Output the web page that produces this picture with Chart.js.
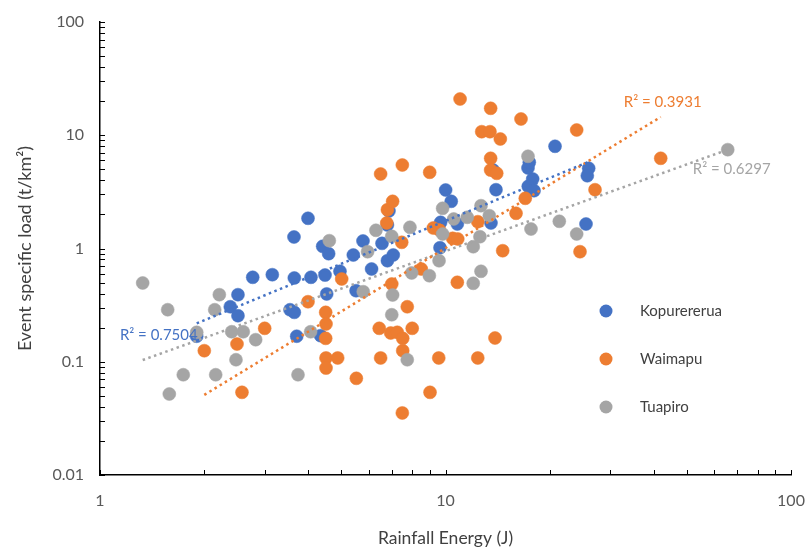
<!DOCTYPE html>
<html>
<head>
<meta charset="utf-8">
<script src="https://cdn.jsdelivr.net/npm/chart.js@4/dist/chart.umd.min.js"></script>
<style>
  html, body { margin: 0; padding: 0; background: #ffffff; }
  #wrap { width: 808px; height: 552px; }
</style>
</head>
<body>
<div id="wrap"><canvas id="c" width="808" height="552"></canvas></div>
<script>
// Event specific sediment load against rainfall energy, three catchments.
const seriesNames = ['Kopurererua', 'Waimapu', 'Tuapiro'];
const seriesColors = ['#4472C4', '#ED7D31', '#A5A5A5'];
const r2Labels = ['R\u00B2 = 0.7504', 'R\u00B2 = 0.3931', 'R\u00B2 = 0.6297'];

const xTickValues = [1, 10, 100];
const xTickLabels = ['1', '10', '100'];
const yTickValues = [0.01, 0.1, 1, 10, 100];
const yTickLabels = ['0.01', '0.1', '1', '10', '100'];

// Kopurererua
const kopEnergy = [1.905, 2.383, 2.508, 2.508, 2.767, 3.153, 3.651, 3.548, 3.651, 3.710,
  3.643, 4.00, 4.08, 4.48, 4.41, 4.59, 4.53, 4.35, 4.95, 5.41,
  5.51, 5.77, 6.11, 6.55, 6.79, 7.06, 6.86, 6.79, 9.64, 9.68,
  10.01, 10.39, 10.82, 13.73, 14.0, 13.54, 17.33, 17.48, 17.88, 17.36,
  18.04, 20.75, 25.97, 25.73, 25.51];
const kopLoad = [0.168, 0.306, 0.391, 0.255, 0.557, 0.587, 0.549, 0.288, 0.273, 0.168,
  1.264, 1.848, 0.557, 0.583, 1.046, 0.90, 0.397, 0.170, 0.629, 0.876,
  0.424, 1.165, 0.659, 1.11, 0.78, 0.876, 2.144, 1.613, 1.016, 1.703,
  3.285, 2.61, 1.645, 4.93, 3.305, 1.68, 5.14, 5.77, 4.11, 3.54,
  3.24, 7.99, 5.11, 4.39, 1.645];

// Waimapu
const waiEnergy = [2.004, 2.492, 2.576, 2.997, 4.0, 4.50, 4.51, 4.50, 4.51, 4.875,
  4.51, 5.007, 5.52, 6.43, 6.49, 6.49, 6.79, 7.03, 6.76, 6.94,
  7.25, 7.52, 7.52, 6.99, 7.47, 7.50, 7.50, 7.75, 8.01, 8.51,
  9.00, 9.02, 9.22, 9.60, 9.56, 10.49, 10.85, 10.82, 11.02, 12.40,
  12.40, 12.73, 13.45, 13.51, 13.51, 13.51, 14.07, 14.41, 14.64, 13.91,
  16.0, 16.54, 17.02, 23.97, 24.51, 27.09, 41.97];
const waiLoad = [0.1252, 0.1434, 0.0537, 0.1974, 0.339, 0.273, 0.2155, 0.161, 0.108, 0.108,
  0.088, 0.538, 0.0714, 0.1974, 0.108, 4.55, 2.20, 2.61, 1.68, 0.1794,
  0.182, 0.161, 0.1252, 0.486, 1.134, 5.46, 0.0353, 0.306, 0.1974, 0.659,
  4.71, 0.0537, 1.517, 1.457, 0.108, 1.23, 1.213, 0.503, 20.9, 1.724,
  0.108, 10.75, 10.75, 17.3, 6.26, 4.93, 4.61, 9.27, 0.956, 0.162,
  2.046, 13.92, 2.776, 11.13, 0.937, 3.305, 6.26];

// Tuapiro
const tuaEnergy = [1.329, 1.570, 1.587, 1.742, 1.905, 2.148, 2.162, 2.215, 2.405, 2.475,
  2.598, 2.822, 3.742, 4.07, 4.61, 5.78, 5.95, 6.29, 6.99, 6.99,
  7.03, 7.75, 7.89, 7.98, 8.98, 9.58, 9.81, 9.81, 10.56, 11.56,
  12.03, 12.03, 12.58, 12.67, 12.67, 13.39, 17.33, 17.68, 21.35, 23.97,
  65.6];
const tuaLoad = [0.496, 0.288, 0.0519, 0.0768, 0.182, 0.288, 0.0768, 0.391, 0.184, 0.1042,
  0.184, 0.1566, 0.0768, 0.184, 1.172, 0.4155, 0.937, 1.448, 1.281, 0.260,
  0.3886, 0.1042, 1.539, 0.608, 0.575, 0.78, 2.265, 1.343, 1.822, 1.886,
  1.037, 0.493, 1.271, 0.629, 2.388, 1.949, 6.52, 1.486, 1.739, 1.343,
  7.46];

const energies = [kopEnergy, waiEnergy, tuaEnergy];
const loads = [kopLoad, waiLoad, tuaLoad];

// Least-squares power fit y = a * x^b (straight line in log-log space)
function powerFit(xs, ys) {
  const lx = xs.map(Math.log10), ly = ys.map(Math.log10);
  const n = lx.length;
  const mx = lx.reduce((s, v) => s + v, 0) / n;
  const my = ly.reduce((s, v) => s + v, 0) / n;
  let sxy = 0, sxx = 0;
  for (let i = 0; i < n; i++) { sxy += (lx[i] - mx) * (ly[i] - my); sxx += (lx[i] - mx) ** 2; }
  const b = sxy / sxx;
  const a = Math.pow(10, my - b * mx);
  return { a, b };
}

function trendPoints(xs, ys) {
  const { a, b } = powerFit(xs, ys);
  const lo = Math.min(...xs), hi = Math.max(...xs);
  return [{ x: lo, y: a * Math.pow(lo, b) }, { x: hi, y: a * Math.pow(hi, b) }];
}

const FONT = 'Lato, "Open Sans", sans-serif';

const datasets = [];
seriesNames.forEach((name, i) => {
  datasets.push({
    type: 'scatter',
    label: name,
    data: energies[i].map((x, k) => ({ x, y: loads[i][k] })),
    backgroundColor: seriesColors[i],
    borderColor: seriesColors[i],
    borderWidth: 0.5,
    pointRadius: 6.5,
    pointHoverRadius: 6.5,
    order: 3 - i
  });
});
seriesNames.forEach((name, i) => {
  datasets.push({
    type: 'line',
    label: name + ' trend',
    data: trendPoints(energies[i], loads[i]),
    borderColor: seriesColors[i],
    borderWidth: 2.5,
    borderDash: [2.5, 3.5],
    pointRadius: 0,
    fill: false,
    order: 0
  });
});

// Tick marks drawn inward from the axes, legend and R² annotations
const decorations = {
  id: 'decorations',
  afterDatasetsDraw(chart) {
    const { ctx, chartArea: ca, scales } = chart;
    const xs = scales.x, ys = scales.y;
    ctx.save();
    ctx.strokeStyle = '#000000';
    ctx.lineWidth = 1;
    for (let d = 1; d < 100; d *= 10) {
      for (let k = 1; k <= 10; k++) {
        const px = Math.round(xs.getPixelForValue(k * d)) + 0.5;
        ctx.beginPath(); ctx.moveTo(px, ca.bottom); ctx.lineTo(px, ca.bottom - 5); ctx.stroke();
      }
    }
    for (let d = 0.01; d < 100; d *= 10) {
      for (let k = 1; k <= 10; k++) {
        const py = Math.round(ys.getPixelForValue(k * d)) + 0.5;
        ctx.beginPath(); ctx.moveTo(ca.left, py); ctx.lineTo(ca.left + 5, py); ctx.stroke();
      }
    }

    ctx.font = '15px ' + FONT;
    ctx.textBaseline = 'middle';
    const metas = [3, 4, 5].map(j => chart.getDatasetMeta(j).data);
    ctx.fillStyle = seriesColors[0];
    ctx.textAlign = 'right';
    ctx.fillText(r2Labels[0], metas[0][0].x + 1, metas[0][0].y + 12);
    ctx.fillStyle = seriesColors[1];
    ctx.textAlign = 'center';
    ctx.fillText(r2Labels[1], metas[1][1].x + 2, metas[1][1].y - 15);
    ctx.fillStyle = seriesColors[2];
    ctx.textAlign = 'center';
    ctx.fillText(r2Labels[2], metas[2][1].x + 4, metas[2][1].y + 20);

    const lx = ca.left + 506, ly0 = ca.top + 289, gap = 48;
    ctx.font = '15px ' + FONT;
    ctx.textAlign = 'left';
    seriesNames.forEach((name, i) => {
      const y = ly0 + i * gap;
      ctx.fillStyle = seriesColors[i];
      ctx.beginPath(); ctx.arc(lx, y, 6.5, 0, Math.PI * 2); ctx.fill();
      ctx.fillStyle = '#404040';
      ctx.fillText(name, lx + 34, y);
    });
    ctx.restore();
  }
};

function noScalePadding(scale) {
  scale.paddingLeft = 0; scale.paddingRight = 0;
  scale.paddingTop = 0; scale.paddingBottom = 0;
}

new Chart(document.getElementById('c'), {
  data: { datasets },
  options: {
    responsive: false,
    animation: false,
    devicePixelRatio: 1,
    layout: { padding: { top: 22, right: 17, left: 0, bottom: 0 } },
    plugins: { legend: { display: false }, tooltip: { enabled: false } },
    scales: {
      x: {
        type: 'logarithmic',
        position: 'bottom',
        min: 1, max: 100,
        afterBuildTicks(scale) { scale.ticks = xTickValues.map(v => ({ value: v })); },
        afterFit(scale) { scale.height = 77; noScalePadding(scale); },
        ticks: {
          padding: 16,
          color: '#595959',
          font: { family: FONT, size: 16 },
          maxRotation: 0,
          callback(value) { const i = xTickValues.indexOf(value); return i >= 0 ? xTickLabels[i] : ''; }
        },
        grid: { display: false, drawTicks: false },
        border: { display: true, color: '#000000', width: 1.5 },
        title: {
          display: true,
          text: 'Rainfall Energy (J)',
          color: '#404040',
          font: { family: FONT, size: 17.5 },
          padding: { top: 0, bottom: 3 }
        }
      },
      y: {
        type: 'logarithmic',
        position: 'left',
        min: 0.01, max: 100,
        afterBuildTicks(scale) { scale.ticks = yTickValues.map(v => ({ value: v })); },
        afterFit(scale) { scale.width = 100; noScalePadding(scale); },
        ticks: {
          padding: 16,
          color: '#595959',
          font: { family: FONT, size: 16 },
          callback(value) {
            const i = yTickValues.findIndex(v => Math.abs(v - value) / v < 1e-6);
            return i >= 0 ? yTickLabels[i] : '';
          }
        },
        grid: { display: false, drawTicks: false },
        border: { display: true, color: '#000000', width: 1.5 },
        title: {
          display: true,
          text: 'Event specific load (t/km\u00B2)',
          color: '#404040',
          font: { family: FONT, size: 18 },
          padding: { top: 14, bottom: 0 }
        }
      }
    }
  },
  plugins: [decorations]
});
</script>
</body>
</html>
